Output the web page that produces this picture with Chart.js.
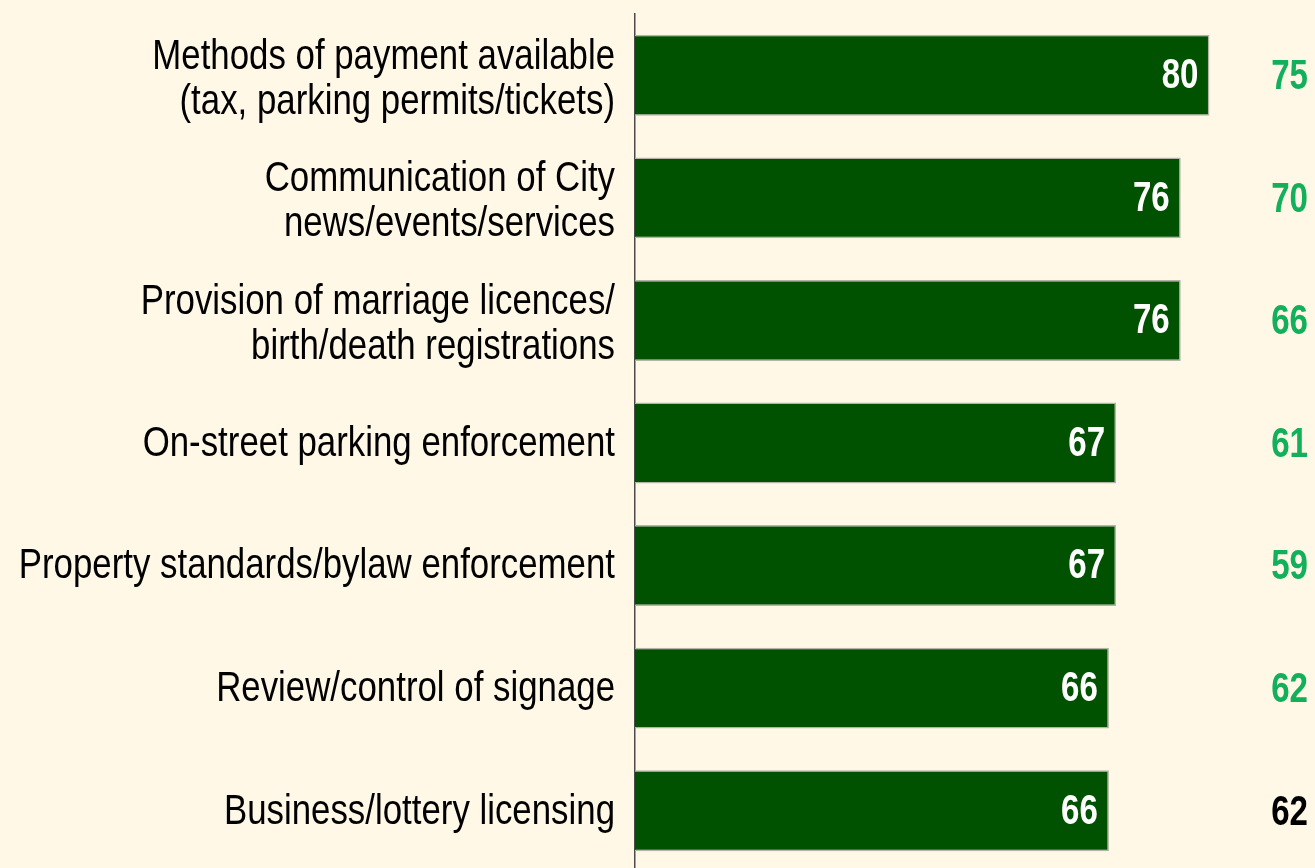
<!DOCTYPE html>
<html>
<head>
<meta charset="utf-8">
<script src="https://cdn.jsdelivr.net/npm/chart.js@4/dist/chart.umd.min.js"></script>
<style>
  html, body { margin: 0; padding: 0; background: #FFF8E7; overflow: hidden; }
  canvas { display: block; }
</style>
</head>
<body>
<canvas id="chart" width="1315" height="872"></canvas>
<script>
// ==============================
// CHART DATA
// ==============================
const categories = [
    ["Methods of payment available", "(tax, parking permits/tickets)"],
    ["Communication of City", "news/events/services"],
    ["Provision of marriage licences/", "birth/death registrations"],
    ["On-street parking enforcement"],
    ["Property standards/bylaw enforcement"],
    ["Review/control of signage"],
    ["Business/lottery licensing"]
];
const currentScores = [80, 76, 76, 67, 67, 66, 66];
const previousScores = [75, 70, 66, 61, 59, 62, 62];
const previousColors = ["#12B05A", "#12B05A", "#12B05A", "#12B05A", "#12B05A", "#12B05A", "#000000"];

const FONT = "'Liberation Sans', Arial, sans-serif";
const NARROW = 0.81; // squeeze to look like Arial Narrow

// draw text squeezed horizontally, right aligned at x
function narrowText(ctx, text, x, y, squeeze) {
    ctx.save();
    ctx.translate(x, y);
    ctx.scale(squeeze, 1);
    ctx.textAlign = "right";
    ctx.fillText(text, 0, 0);
    ctx.restore();
}

// ==============================
// LABELS PLUGIN
// ==============================
const labelPlugin = {
    id: "labelPlugin",
    afterDatasetsDraw(chart) {
        const ctx = chart.ctx;
        const yScale = chart.scales.y;
        const meta = chart.getDatasetMeta(0);
        ctx.save();
        ctx.textBaseline = "middle";

        // category labels on the left
        ctx.font = "43px " + FONT;
        ctx.fillStyle = "#000000";
        categories.forEach((lines, i) => {
            const y = yScale.getPixelForTick(i);
            const lineH = 45;
            const shift = lines.length > 1 ? 4 : 1;
            const y0 = y - (lines.length - 1) * lineH / 2 + shift;
            lines.forEach((line, j) => narrowText(ctx, line, 615, y0 + j * lineH, NARROW));
        });

        // values inside bars and previous values on the right
        ctx.font = "bold 43px " + FONT;
        meta.data.forEach((bar, i) => {
            ctx.fillStyle = "#FFFFFF";
            narrowText(ctx, String(currentScores[i]), bar.x - 11, bar.y + 1, 0.77);
            ctx.fillStyle = previousColors[i];
            narrowText(ctx, String(previousScores[i]), 1308, bar.y + 2, 0.77);
        });
        ctx.restore();
    }
};

// ==============================
// BAR CHART
// ==============================
new Chart(document.getElementById("chart"), {
    type: "bar",
    data: {
        labels: categories.map(c => c.join(" ")),
        datasets: [{
            data: currentScores,
            backgroundColor: "#005200",
            borderColor: "#B4B4A8",
            borderWidth: 1.5,
            borderSkipped: "left",
            barPercentage: 0.66,
            categoryPercentage: 1
        }]
    },
    options: {
        indexAxis: "y",
        responsive: false,
        animation: false,
        layout: { padding: { top: 14, right: 5, bottom: 0, left: 0 } },
        plugins: {
            legend: { display: false },
            tooltip: { enabled: false }
        },
        scales: {
            x: {
                display: false,
                min: 0,
                max: 94
            },
            y: {
                afterFit(scale) {
                    scale.width = 635;
                    scale.paddingTop = 0;
                    scale.paddingBottom = 0;
                },
                grid: { display: false, drawTicks: false },
                border: { display: true, color: "#4A4A4A", width: 1.5 },
                ticks: { display: false }
            }
        }
    },
    plugins: [labelPlugin]
});
</script>
</body>
</html>
